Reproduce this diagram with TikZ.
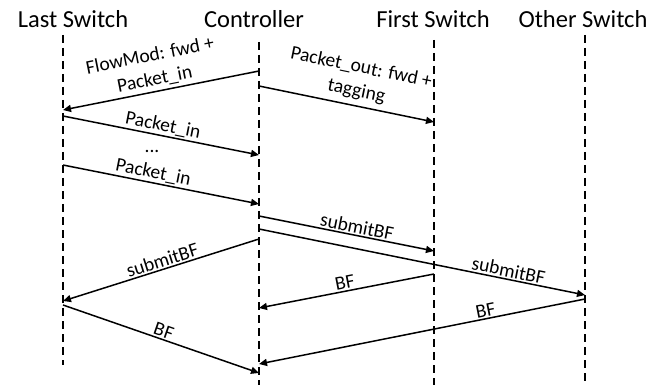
\documentclass[tikz,border=0pt]{standalone}
\usepackage{fontspec}
\setmainfont{Carlito}
\usetikzlibrary{arrows.meta}
\begin{document}
\begin{tikzpicture}[x=1pt,y=-1pt,
  lifeline/.style={dash pattern=on 8pt off 5pt, line width=1.6pt},
  msg/.style={-{Triangle[length=8pt,width=7pt]}, line width=1.5pt},
  head/.style={font=\fontsize{24.5}{28}\selectfont, inner sep=0pt, anchor=base},
  lbl/.style={font=\fontsize{19.5}{24}\selectfont, sloped, above, inner sep=1.5pt, align=center}]
\useasboundingbox (0,0) rectangle (667,385);

% column headings
\node[head] (hL) at (73,28) {Last Switch};
\node[head] (hC) at (254,28) {Controller};
\node[head] (hF) at (433,28) {First Switch};
\node[head] (hO) at (583,28) {Other Switch};

% lifelines
\coordinate (Ltop) at (63,35);  \coordinate (Lbot) at (63,365);
\coordinate (Ctop) at (259,42); \coordinate (Cbot) at (259,385);
\coordinate (Ftop) at (434,40); \coordinate (Fbot) at (434,385);
\coordinate (Otop) at (585,35); \coordinate (Obot) at (585,381);
\draw[lifeline] (Ltop) -- (Lbot);
\draw[lifeline] (Ctop) -- (Cbot);
\draw[lifeline] (Ftop) -- (Fbot);
\draw[lifeline] (Otop) -- (Obot);

% message end points
\coordinate (C1) at (259,71);  \coordinate (L1) at (63,110);
\coordinate (C2) at (259,86);  \coordinate (F1) at (434,122);
\coordinate (L2) at (63,116);  \coordinate (C3) at (259,155);
\coordinate (L3) at (63,165);  \coordinate (C4) at (259,204);
\coordinate (C5) at (259,216); \coordinate (F2) at (434,251);
\coordinate (C6) at (259,229); \coordinate (O1) at (585,295);
\coordinate (C7) at (259,239); \coordinate (L4) at (63,301);
\coordinate (F3) at (434,274); \coordinate (C8) at (259,308);
\coordinate (O2) at (585,299); \coordinate (C9) at (259,364);
\coordinate (L5) at (63,305);  \coordinate (C10) at (259,373);

% messages
\draw[msg] (C1) -- node[lbl, pos=0.52, inner sep=3pt] {FlowMod: fwd +\\Packet\_in} (L1);
\draw[msg] (C2) -- node[lbl, pos=0.54, inner sep=5pt] {Packet\_out: fwd +\\tagging} (F1);
\draw[msg] (L2) -- node[lbl] {Packet\_in} (C3);
\node[font=\fontsize{19.5}{24}\selectfont, anchor=base] (dots) at (152,153) {...};
\draw[msg] (L3) -- node[lbl, pos=0.45] {Packet\_in} (C4);
\draw[msg] (C5) -- node[lbl, pos=0.55] {submitBF} (F2);
\draw[msg] (C6) -- node[lbl, pos=0.76] {submitBF} (O1);
\draw[msg] (C7) -- node[lbl, pos=0.48] {submitBF} (L4);
\draw[msg] (F3) -- node[lbl, pos=0.5] {BF} (C8);
\draw[msg] (O2) -- node[lbl, pos=0.3] {BF} (C9);
\draw[msg] (L5) -- node[lbl] {BF} (C10);
\end{tikzpicture}
\end{document}
